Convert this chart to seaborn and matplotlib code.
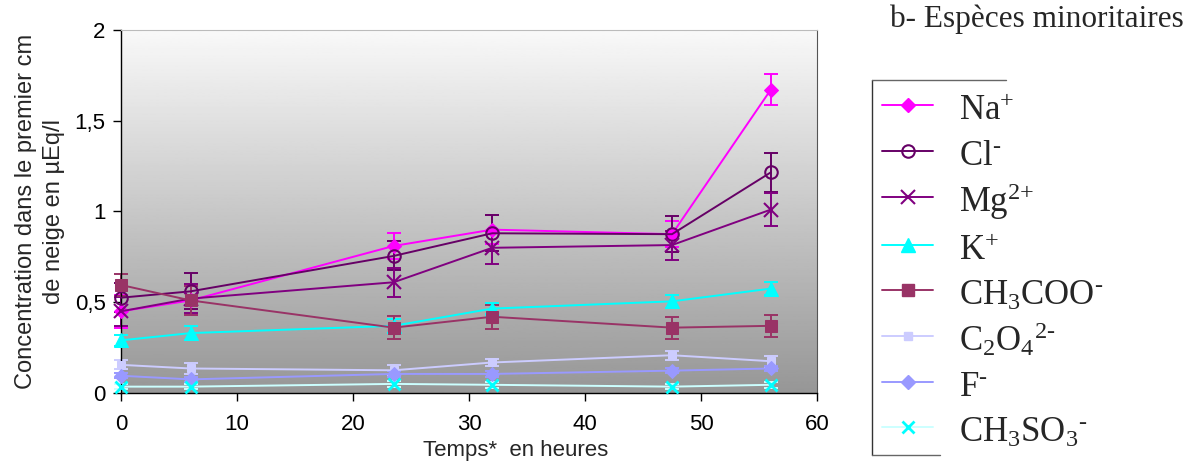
import numpy as np
import matplotlib
matplotlib.use("Agg")
import matplotlib.pyplot as plt
import seaborn as sns
from matplotlib.lines import Line2D

# -------------------------------
# Data
temps = [0, 6, 23.5, 32, 47.5, 56]

na = [0.45, 0.51, 0.81, 0.90, 0.875, 1.67]
na_err = [0.09, 0.08, 0.07, 0.08, 0.07, 0.085]
cl = [0.525, 0.56, 0.755, 0.88, 0.875, 1.215]
cl_err = [0.08, 0.10, 0.08, 0.10, 0.10, 0.105]
mg = [0.45, 0.52, 0.61, 0.80, 0.815, 1.01]
mg_err = [0.08, 0.08, 0.08, 0.09, 0.08, 0.09]
k = [0.29, 0.33, 0.37, 0.465, 0.505, 0.575]
k_err = [0.03, 0.04, 0.04, 0.03, 0.035, 0.035]
ch3coo = [0.595, 0.51, 0.36, 0.42, 0.36, 0.37]
ch3coo_err = [0.06, 0.08, 0.065, 0.065, 0.06, 0.06]
c2o4 = [0.155, 0.135, 0.125, 0.168, 0.208, 0.175]
c2o4_err = [0.025, 0.03, 0.03, 0.02, 0.025, 0.03]
f = [0.095, 0.075, 0.105, 0.105, 0.123, 0.135]
f_err = [0.015, 0.015, 0.015, 0.015, 0.015, 0.015]
ch3so3 = [0.035, 0.035, 0.05, 0.045, 0.035, 0.045]
ch3so3_err = [0.015, 0.015, 0.015, 0.015, 0.015, 0.015]

noms = [r"$\mathrm{Na^{\text{+}}}$", r"$\mathrm{Cl^{\text{-}}}$",
        r"$\mathrm{Mg^{\text{2+}}}$", r"$\mathrm{K^{\text{+}}}$",
        r"$\mathrm{CH_3COO^{\text{-}}}$", r"$\mathrm{C_2O_4{}^{\text{2-}}}$",
        r"$\mathrm{F^{\text{-}}}$", r"$\mathrm{CH_3SO_3{}^{\text{-}}}$"]

y_ticks = [0, 0.5, 1, 1.5, 2]
y_ticklabels = ["0", "0,5", "1", "1,5", "2"]
x_ticks = [0, 10, 20, 30, 40, 50, 60]

# -------------------------------
# Style
sns.set_style("white")
plt.rcParams["font.family"] = ["Liberation Sans", "DejaVu Sans"]
plt.rcParams["mathtext.fontset"] = "custom"
plt.rcParams["mathtext.rm"] = "Liberation Serif"
plt.rcParams["mathtext.it"] = "Liberation Serif:italic"
plt.rcParams["mathtext.bf"] = "Liberation Serif:bold"

series = [
    (na, na_err, "#FF00FF", "#FF00FF", dict(marker="D", ms=7.5)),
    (cl, cl_err, "#660066", "#660066", dict(marker="o", ms=9, mfc="none", mew=1.5)),
    (mg, mg_err, "#800080", "#800080", dict(marker="x", ms=10, mew=1.5)),
    (k, k_err, "#00FFFF", "#00FFFF", dict(marker="^", ms=10)),
    (ch3coo, ch3coo_err, "#993366", "#993366", dict(marker="s", ms=9)),
    (c2o4, c2o4_err, "#CCCCFF", "#CCCCFF", dict(marker="s", ms=6)),
    (f, f_err, "#9999FF", "#9999FF", dict(marker="D", ms=7.5)),
    (ch3so3, ch3so3_err, "#CCFFFF", "#00FFFF", dict(marker="x", ms=9, mew=2)),
]

fig = plt.figure(figsize=(11.98, 4.68), dpi=100)
ax = fig.add_axes([0.101, 0.1603, 0.581, 0.7756])

# grey gradient background of the plot area
grad = np.linspace(0.975, 0.59, 256).reshape(-1, 1)
ax.imshow(grad, extent=[0, 60, 0, 2], aspect="auto", cmap="gray",
          vmin=0, vmax=1, zorder=0)

handles = []
for (vals, err, lcol, mcol, mk), nom in zip(series, noms):
    ax.errorbar(temps, vals, yerr=err, fmt="none", ecolor=lcol, elinewidth=1.4,
                capsize=5, capthick=1.4, clip_on=False, zorder=2)
    sns.lineplot(x=temps, y=vals, ax=ax, color=lcol, lw=1.4, errorbar=None,
                 mec=mcol, **({"mfc": mcol} | mk), clip_on=False, zorder=3)
    handles.append(Line2D([], [], color=lcol, lw=1.4, mec=mcol,
                          **({"mfc": mcol} | mk)))

ax.set_xlim(0, 60)
ax.set_ylim(0, 2)
ax.set_xticks(x_ticks)
ax.set_yticks(y_ticks, y_ticklabels)
ax.tick_params(axis="both", direction="out", length=6, width=1, color="black",
               labelsize=16, labelcolor="black")
ax.tick_params(axis="x", pad=9, bottom=True)
ax.tick_params(axis="y", pad=5, left=True)
for side in ["left", "bottom"]:
    ax.spines[side].set_color("black")
    ax.spines[side].set_linewidth(1)
ax.spines["right"].set_color("#555555")
ax.spines["top"].set_color("#bbbbbb")

ax.set_xlabel("Temps*  en heures", fontsize=16)
ax.xaxis.set_label_coords(0.567, -0.13)
ax.set_ylabel("Concentration dans le premier cm\nde neige en µEq/l",
              fontsize=17, linespacing=1.4)
ax.yaxis.set_label_coords(-0.08, 0.5)

leg = fig.legend(handles, noms, loc="upper left",
                 bbox_to_anchor=(872 / 1198, 1 - 80 / 468),
                 bbox_transform=fig.transFigure, frameon=False,
                 prop={"family": "Liberation Serif", "size": 25},
                 handlelength=1.45, handleheight=1.2, handletextpad=0.75,
                 labelspacing=0.23, borderpad=0.3, borderaxespad=0)

# partial frame of the legend box as in the original
fx = lambda px: px / 1198
fy = lambda py: 1 - py / 468
fig.add_artist(Line2D([fx(872), fx(872)], [fy(80), fy(455)], color="#333333", lw=1))
fig.add_artist(Line2D([fx(872), fx(1006)], [fy(80), fy(80)], color="#666666", lw=1))
fig.add_artist(Line2D([fx(872), fx(940)], [fy(455), fy(455)], color="#666666", lw=1))

fig.text(890 / 1198, 1 - 27 / 468, "b- Espèces minoritaires",
         family="Liberation Serif", fontsize=22.5, ha="left", va="baseline")

fig.savefig("out.png", dpi=100)
